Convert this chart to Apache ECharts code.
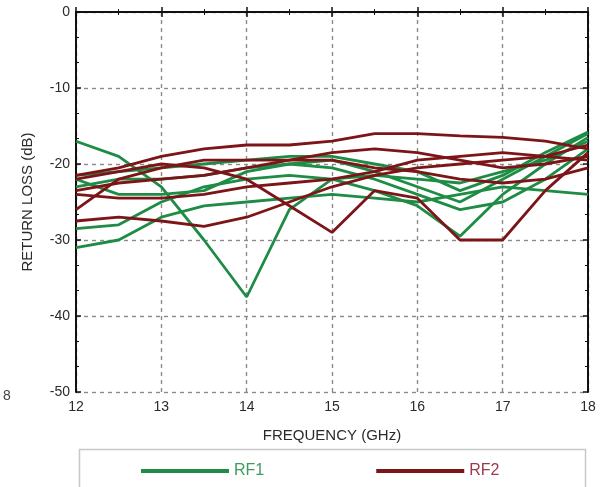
<!DOCTYPE html>
<html>
<head>
<meta charset="utf-8">
<script src="https://cdn.jsdelivr.net/npm/echarts@6/dist/echarts.min.js"></script>
<style>
  html, body { margin: 0; padding: 0; background: #fff; }
  #chart { width: 605px; height: 487px; }
</style>
</head>
<body>
<div id="chart"></div>
<script>
// frequency points (GHz)
const freqs = [12, 12.5, 13, 13.5, 14, 14.5, 15, 15.5, 16, 16.5, 17, 17.5, 18]

// RF1 channels (green), return loss in dB
const rf1 = [
  [-17, -19, -23, -30, -37.5, -26, -22, -21.5, -22, -22.5, -21, -19.5, -17],
  [-31, -30, -27, -25.5, -25, -24.5, -24, -24.5, -25, -24, -23, -23.5, -24],
  [-28.5, -28, -25, -23, -22, -21.5, -22, -23.5, -25.5, -29.5, -24, -20, -16.5],
  [-22, -24, -24, -23.5, -21, -20, -19.5, -21, -23, -25, -22, -19, -16],
  [-21.5, -21, -20.5, -20, -19.5, -19, -19, -20, -21, -23.5, -21.5, -18.5, -15.8],
  [-23, -22, -22, -21.5, -20.5, -20, -20.5, -22, -24, -26, -25, -22, -18],
]

// RF2 channels (dark red)
const rf2 = [
  [-21.5, -20.5, -19, -18, -17.5, -17.5, -17, -16, -16, -16.3, -16.5, -17, -18],
  [-22, -21, -20, -20.5, -22, -25.5, -29, -23.5, -24.5, -30, -30, -23.5, -18.5],
  [-27.5, -27, -27.5, -28.2, -27, -25, -23, -21.5, -20.5, -20, -19.5, -19, -17.5],
  [-26, -22, -20.5, -19.5, -19.5, -19.5, -19.5, -20.5, -21, -22, -22.5, -22, -20.5],
  [-24, -24.5, -24.5, -24, -23, -22.5, -22, -21, -19.5, -19, -18.5, -19, -19.5],
  [-23.5, -22.5, -22, -21.5, -20.5, -19.5, -18.5, -18, -18.5, -19.5, -20.5, -20, -19],
]

const GREEN = '#1f8c46'
const RED = '#7d1518'
const FONT = '"Liberation Sans", Arial, sans-serif'

function mkSeries(rows, name, color) {
  return rows.map((r) => ({
    name,
    type: 'line',
    data: r.map((v, i) => [freqs[i], v]),
    showSymbol: false,
    symbol: 'none',
    lineStyle: { color, width: 2.8 },
    itemStyle: { color },
    animation: false,
  }))
}

const grid = { left: 76, right: 17, top: 12, bottom: 95 }
const dashed = { show: true, lineStyle: { color: '#8a8a8a', type: [4, 4], width: 1.4 } }
const axisLine = { show: true, lineStyle: { color: '#111', width: 2 } }
const tick = { inside: true, length: 5, lineStyle: { color: '#111', width: 1.5 } }

const chart = echarts.init(document.getElementById('chart'))
chart.setOption({
  backgroundColor: '#fff',
  textStyle: { fontFamily: FONT },
  grid,
  xAxis: [
    {
      type: 'value', min: 12, max: 18, interval: 1,
      axisLine, axisTick: tick,
      minorTick: { show: true, splitNumber: 2, length: 3, lineStyle: { color: '#111' } },
      axisLabel: { color: '#2a2a2a', fontSize: 14, margin: 8 },
      splitLine: dashed,
      name: 'FREQUENCY (GHz)', nameLocation: 'middle', nameGap: 36,
      nameTextStyle: { color: '#2a2a2a', fontSize: 15 },
    },
    {
      type: 'value', position: 'top', min: 12, max: 18, interval: 1,
      axisLine, axisTick: tick,
      minorTick: { show: true, splitNumber: 2, length: 3, lineStyle: { color: '#111' } },
      axisLabel: { show: false }, splitLine: { show: false },
    },
  ],
  yAxis: [
    {
      type: 'value', min: -50, max: 0, interval: 10,
      axisLine, axisTick: tick,
      minorTick: { show: true, splitNumber: 3, length: 3, lineStyle: { color: '#111' } },
      axisLabel: { color: '#2a2a2a', fontSize: 14, margin: 6 },
      splitLine: dashed,
      name: 'RETURN LOSS (dB)', nameLocation: 'middle', nameGap: 41,
      nameTextStyle: { color: '#2a2a2a', fontSize: 15 },
    },
    {
      type: 'value', position: 'right', min: -50, max: 0, interval: 10,
      axisLine, axisTick: tick,
      minorTick: { show: true, splitNumber: 3, length: 3, lineStyle: { color: '#111' } },
      axisLabel: { show: false }, splitLine: { show: false },
    },
  ],
  legend: {
    left: 136, top: 458,
    itemWidth: 88, itemHeight: 4, itemGap: 112,
    icon: 'rect',
    data: [
      { name: 'RF1', textStyle: { color: '#3f9a5f' } },
      { name: 'RF2', textStyle: { color: '#9c3a4a' } },
    ],
    textStyle: { fontSize: 16, fontFamily: FONT },
  },
  graphic: [
    {
      type: 'rect', left: 77, top: 447,
      shape: { width: 506, height: 60 },
      style: { fill: 'none', stroke: '#c8c8c8', lineWidth: 1.5 },
      silent: true,
    },
    {
      type: 'text', left: 3, top: 389,
      style: { text: '8', fill: '#444', font: '14px ' + FONT },
      silent: true,
    },
  ],
  series: [...mkSeries(rf1, 'RF1', GREEN), ...mkSeries(rf2, 'RF2', RED)],
})
</script>
</body>
</html>
